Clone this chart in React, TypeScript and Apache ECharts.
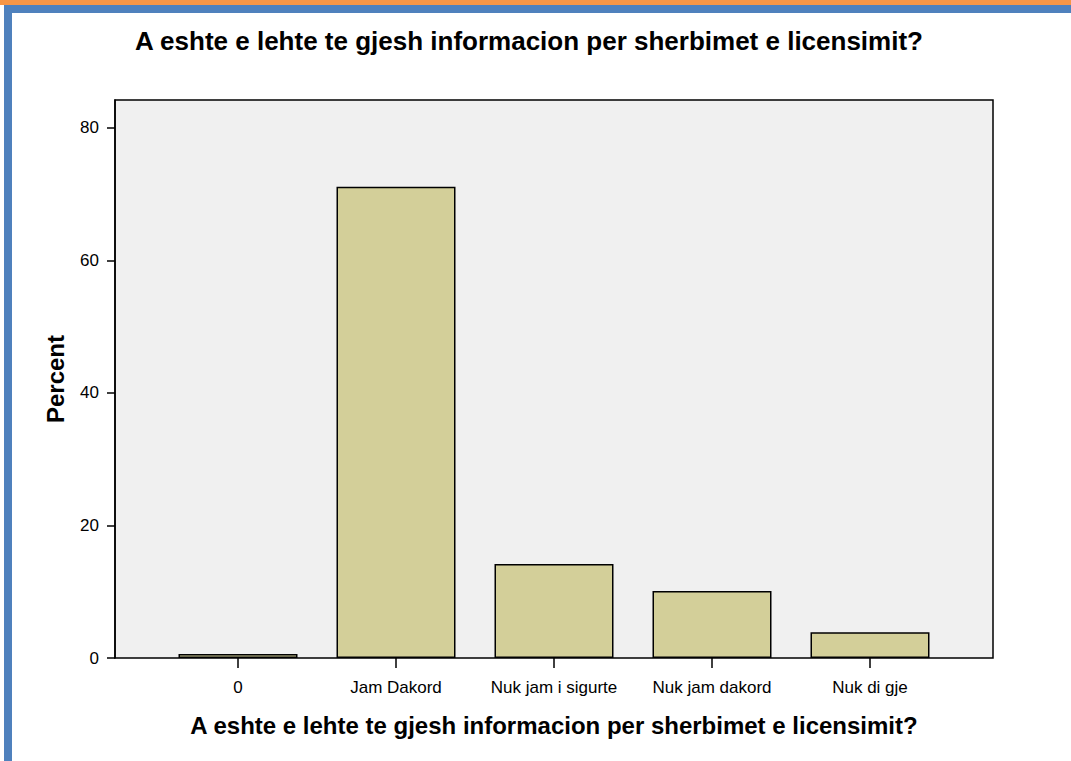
import React, { useEffect, useRef } from "react";
import * as echarts from "echarts";

const categories = ["0", "Jam Dakord", "Nuk jam i sigurte", "Nuk jam dakord", "Nuk di gje"];
const percentValues = [0.6, 71.1, 14.2, 10.1, 3.9];
const yTickValues = [0, 20, 40, 60, 80];
const titleText = "A eshte e lehte te gjesh informacion per sherbimet e licensimit?";
const yAxisTitle = "Percent";

const FONT = "Arial, 'Liberation Sans', Helvetica, sans-serif";

export default function App() {
  const ref = useRef<HTMLDivElement>(null);
  useEffect(() => {
    if (!ref.current) return;
    const chart = echarts.init(ref.current, null, { renderer: "svg" });
    const yMax = 84.2;
    chart.setOption({
      animation: false,
      backgroundColor: "transparent",
      title: {
        text: titleText,
        left: 524,
        textAlign: "center",
        top: 23,
        textStyle: { fontFamily: FONT, fontSize: 26, fontWeight: "bold", color: "#000" },
      },
      grid: [
        { left: 115, top: 100, width: 878, height: 558, show: true, backgroundColor: "#f0f0f0", borderColor: "#000", borderWidth: 1.5 },
        { left: 159, top: 100, width: 790, height: 558, show: false },
      ],
      xAxis: [
        {
          type: "category",
          gridIndex: 0,
          data: categories,
          show: false,
        },
        {
          type: "category",
          gridIndex: 1,
          data: categories,
          axisLine: { show: false },
          axisTick: { show: true, inside: false, length: 10, alignWithLabel: true, interval: 0, lineStyle: { color: "#000", width: 1.5 } },
          axisLabel: { color: "#000", fontFamily: FONT, fontSize: 17, margin: 21, interval: 0 },
          name: titleText,
          nameLocation: "middle",
          nameGap: 55,
          nameTextStyle: { color: "#000", fontFamily: FONT, fontSize: 24, fontWeight: "bold" },
        },
      ],
      yAxis: [
        {
          type: "value",
          gridIndex: 0,
          min: 0,
          max: yMax,
          interval: 20,
          axisLine: { show: true, lineStyle: { color: "#000", width: 1.5 } },
          axisTick: { show: true, length: 8, customValues: yTickValues, lineStyle: { color: "#000", width: 1.5 } },
          axisLabel: { color: "#000", fontFamily: FONT, fontSize: 17, margin: 16, customValues: yTickValues },
          splitLine: { show: false },
          name: yAxisTitle,
          nameLocation: "middle",
          nameGap: 48,
          nameTextStyle: { color: "#000", fontFamily: FONT, fontSize: 24, fontWeight: "bold" },
        },
        {
          type: "value",
          gridIndex: 1,
          min: 0,
          max: yMax,
          show: false,
          splitLine: { show: false },
        },
      ],
      series: [
        {
          type: "bar",
          xAxisIndex: 1,
          yAxisIndex: 1,
          data: percentValues,
          barWidth: 119,
          itemStyle: { color: "#d3cf99", borderColor: "#000", borderWidth: 1.5 },
        },
      ],
    });
    return () => chart.dispose();
  }, []);
  return (
    <div style={{ position: "fixed", left: 0, top: 0, width: 1071, height: 761, background: "#fff" }}>
      <div style={{ position: "absolute", left: 0, top: 0, width: 1071, height: 5, background: "#f79646" }} />
      <div style={{ position: "absolute", left: 4, top: 5, width: 1067, height: 8, background: "#4f81bd" }} />
      <div style={{ position: "absolute", left: 4, top: 5, width: 8, height: 756, background: "#4f81bd" }} />
      <div ref={ref} style={{ position: "absolute", left: 0, top: 0, width: 1071, height: 761 }} />
    </div>
  );
}
